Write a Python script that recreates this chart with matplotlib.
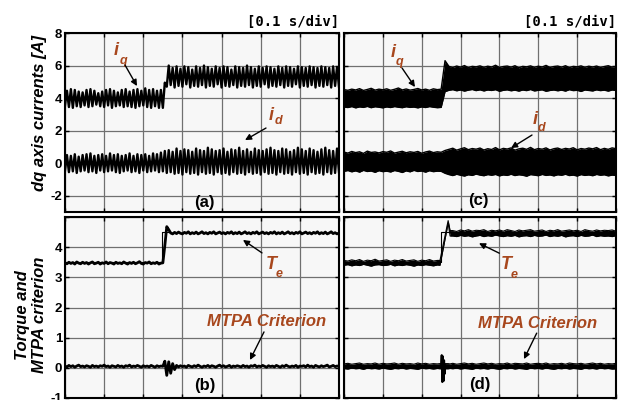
import numpy as np
import matplotlib
matplotlib.use("Agg")
import matplotlib.pyplot as plt

plt.rcParams['font.family'] = ['Liberation Sans', 'DejaVu Sans']

# ---------------- data ----------------
# time span of every panel: 7 divisions of 0.1 s
t_span = [0.0, 0.7]

# (a) dq currents, alternating trough/peak values, sampled every 5 ms
iq_a = [3.55, 4.45, 3.45, 4.55, 3.40, 4.50, 3.50, 4.40, 3.45, 4.35,
        3.55, 4.50, 3.45, 4.55, 3.50, 4.45, 3.60, 4.30, 3.50, 4.40,
        3.45, 4.50, 3.55, 4.55, 3.40, 4.45, 3.50, 4.35, 3.55, 4.50,
        3.45, 4.55, 3.50, 4.40, 3.45, 4.50, 3.40, 4.55, 3.50, 4.45,
        3.55, 4.60, 3.45, 4.50, 3.40, 4.55, 3.50, 4.45, 3.40, 4.50,
        3.40, 4.95, 4.70, 6.00, 4.80, 5.85, 4.65, 5.95, 4.75, 5.80,
        4.70, 5.95, 4.85, 5.90, 4.65, 5.75, 4.75, 5.95, 4.70, 5.85,
        4.80, 6.00, 4.65, 5.90, 4.75, 5.80, 4.70, 5.95, 4.85, 5.85,
        4.65, 5.95, 4.75, 5.90, 4.70, 5.75, 4.80, 5.95, 4.65, 5.90,
        4.75, 5.85, 4.70, 6.00, 4.80, 5.90, 4.65, 5.80, 4.75, 5.95,
        4.70, 5.85, 4.85, 5.95, 4.65, 5.90, 4.75, 5.80, 4.70, 5.95,
        4.80, 5.85, 4.65, 5.95, 4.75, 5.90, 4.70, 5.80, 4.85, 5.95,
        4.65, 5.90, 4.75, 5.85, 4.70, 5.95, 4.80, 5.90, 4.65, 5.85,
        4.75, 5.95, 4.70, 5.90, 4.80, 5.85, 4.65, 5.95, 4.75, 5.90, 4.70]
id_a = [-0.45, 0.50, -0.55, 0.45, -0.50, 0.55, -0.60, 0.40, -0.50, 0.50,
        -0.45, 0.55, -0.55, 0.60, -0.50, 0.45, -0.60, 0.50, -0.45, 0.55,
        -0.55, 0.45, -0.50, 0.60, -0.45, 0.50, -0.55, 0.55, -0.60, 0.45,
        -0.50, 0.50, -0.45, 0.60, -0.55, 0.45, -0.50, 0.55, -0.60, 0.50,
        -0.45, 0.55, -0.55, 0.45, -0.50, 0.60, -0.45, 0.55, -0.55, 0.65,
        -0.50, 0.75, -0.60, 0.80, -0.55, 0.70, -0.65, 0.90, -0.60, 0.75,
        -0.70, 0.85, -0.55, 0.80, -0.65, 0.70, -0.60, 0.90, -0.70, 0.80,
        -0.55, 0.75, -0.65, 0.95, -0.60, 0.85, -0.70, 0.75, -0.55, 0.80,
        -0.65, 0.90, -0.60, 0.70, -0.70, 0.85, -0.55, 0.80, -0.65, 0.95,
        -0.60, 0.75, -0.70, 0.85, -0.55, 0.70, -0.65, 0.90, -0.60, 0.80,
        -0.70, 0.75, -0.55, 0.85, -0.65, 0.95, -0.60, 0.80, -0.70, 0.75,
        -0.55, 0.90, -0.65, 0.85, -0.60, 0.70, -0.70, 0.80, -0.55, 0.95,
        -0.65, 0.85, -0.60, 0.75, -0.70, 0.90, -0.55, 0.80, -0.65, 0.70,
        -0.60, 0.85, -0.70, 0.95, -0.55, 0.80, -0.65, 0.75, -0.60, 0.90, -0.55]

# (b) torque and MTPA criterion, sampled every 5 ms
te_b = [3.48, 3.45, 3.50, 3.46, 3.49, 3.44, 3.51, 3.47, 3.45, 3.50,
        3.46, 3.49, 3.44, 3.48, 3.51, 3.45, 3.47, 3.50, 3.44, 3.48,
        3.46, 3.51, 3.45, 3.49, 3.47, 3.44, 3.50, 3.46, 3.48, 3.45,
        3.51, 3.47, 3.44, 3.49, 3.46, 3.50, 3.45, 3.48, 3.52, 3.46,
        3.44, 3.49, 3.47, 3.51, 3.45, 3.48, 3.46, 3.50, 3.44, 3.47,
        3.48, 4.05, 4.68, 4.58, 4.47, 4.44, 4.49, 4.45, 4.50, 4.46,
        4.44, 4.49, 4.46, 4.51, 4.44, 4.48, 4.45, 4.50, 4.44, 4.47,
        4.51, 4.45, 4.48, 4.44, 4.49, 4.46, 4.51, 4.44, 4.47, 4.50,
        4.45, 4.48, 4.44, 4.49, 4.46, 4.51, 4.44, 4.48, 4.45, 4.50,
        4.44, 4.47, 4.51, 4.45, 4.48, 4.44, 4.49, 4.46, 4.51, 4.44,
        4.47, 4.50, 4.45, 4.48, 4.44, 4.49, 4.46, 4.51, 4.44, 4.48,
        4.45, 4.50, 4.44, 4.47, 4.51, 4.45, 4.48, 4.44, 4.49, 4.46,
        4.51, 4.44, 4.47, 4.50, 4.45, 4.48, 4.44, 4.49, 4.46, 4.51,
        4.44, 4.48, 4.45, 4.50, 4.44, 4.47, 4.51, 4.45, 4.48, 4.44, 4.47]
mtpa_b = [0.06, 0.03, 0.08, 0.04, 0.07, 0.02, 0.06, 0.09, 0.04, 0.06,
          0.03, 0.07, 0.05, 0.02, 0.08, 0.04, 0.06, 0.03, 0.07, 0.05,
          0.09, 0.04, 0.06, 0.02, 0.07, 0.05, 0.03, 0.08, 0.04, 0.06,
          0.02, 0.07, 0.05, 0.09, 0.03, 0.06, 0.04, 0.08, 0.05, 0.02,
          0.07, 0.04, 0.06, 0.03, 0.08, 0.05, 0.02, 0.07, 0.04, 0.06,
          0.05, 0.22, -0.25, 0.20, -0.18, 0.14, -0.06, 0.08, 0.03, 0.07,
          0.04, 0.06, 0.02, 0.08, 0.05, 0.03, 0.07, 0.04, 0.09, 0.05,
          0.02, 0.06, 0.04, 0.08, 0.03, 0.07, 0.05, 0.02, 0.06, 0.09,
          0.04, 0.07, 0.03, 0.05, 0.08, 0.02, 0.06, 0.04, 0.07, 0.05,
          0.03, 0.08, 0.04, 0.06, 0.02, 0.07, 0.05, 0.09, 0.03, 0.06,
          0.04, 0.08, 0.05, 0.02, 0.07, 0.04, 0.06, 0.03, 0.08, 0.05,
          0.02, 0.07, 0.04, 0.09, 0.05, 0.03, 0.06, 0.04, 0.08, 0.02,
          0.06, 0.05, 0.07, 0.03, 0.09, 0.04, 0.06, 0.02, 0.08, 0.05,
          0.03, 0.07, 0.04, 0.06, 0.09, 0.03, 0.05, 0.08, 0.04, 0.06, 0.05]
ref_time_b = [0.0, 0.247, 0.247, 0.27]
ref_torque_b = [3.5, 3.5, 4.5, 4.5]

# (c) dense band envelopes, every 10 ms
iq_c_upper = [4.52, 4.48, 4.55, 4.50, 4.58, 4.47, 4.53, 4.60, 4.49, 4.55,
              4.51, 4.57, 4.48, 4.54, 4.62, 4.50, 4.56, 4.49, 4.53, 4.59,
              4.50, 4.55, 4.48, 4.57, 4.52, 4.55, 6.30,
              5.95, 5.88, 5.97, 5.90, 6.00, 5.87, 5.95, 5.92, 5.98,
              5.89, 5.96, 5.91, 6.02, 5.88, 5.94, 5.97, 5.90, 5.99, 5.86,
              5.95, 5.92, 5.98, 5.89, 5.96, 5.91, 6.01, 5.88, 5.94, 5.97,
              5.90, 5.99, 5.87, 5.95, 5.92, 5.98, 5.89, 5.96, 5.91, 5.97,
              5.88, 5.94, 5.99, 5.90, 5.95]
iq_c_lower = [3.45, 3.42, 3.48, 3.40, 3.46, 3.43, 3.49, 3.41, 3.47, 3.44,
              3.40, 3.46, 3.42, 3.48, 3.44, 3.41, 3.47, 3.43, 3.45, 3.40,
              3.46, 3.42, 3.48, 3.44, 3.41, 3.43, 4.40,
              4.48, 4.52, 4.45, 4.50, 4.43, 4.49, 4.53, 4.46, 4.51,
              4.44, 4.50, 4.47, 4.52, 4.42, 4.48, 4.51, 4.45, 4.49, 4.43,
              4.50, 4.46, 4.53, 4.44, 4.48, 4.51, 4.42, 4.47, 4.50, 4.45,
              4.49, 4.43, 4.52, 4.46, 4.48, 4.41, 4.50, 4.47, 4.44, 4.51,
              4.46, 4.49, 4.43, 4.50, 4.47]
id_c_upper = [0.68, 0.62, 0.72, 0.65, 0.70, 0.60, 0.74, 0.66, 0.69, 0.63,
              0.71, 0.67, 0.75, 0.62, 0.68, 0.73, 0.64, 0.70, 0.66, 0.72,
              0.61, 0.69, 0.74, 0.65, 0.70, 0.67, 0.78,
              0.85, 0.92, 0.80, 0.88, 0.95, 0.83, 0.90, 0.86, 0.93,
              0.81, 0.89, 0.84, 0.96, 0.82, 0.91, 0.87, 0.94, 0.80, 0.88,
              0.92, 0.85, 0.97, 0.83, 0.90, 0.86, 0.94, 0.81, 0.89, 0.93,
              0.84, 0.91, 0.87, 0.95, 0.82, 0.90, 0.86, 0.93, 0.88, 0.96,
              0.83, 0.91, 0.85, 0.94, 0.89]
id_c_lower = [-0.50, -0.45, -0.53, -0.47, -0.55, -0.44, -0.51, -0.48, -0.56, -0.46,
              -0.52, -0.49, -0.54, -0.45, -0.50, -0.57, -0.47, -0.53, -0.44, -0.51,
              -0.48, -0.55, -0.46, -0.52, -0.49, -0.50, -0.62,
              -0.70, -0.76, -0.68, -0.74, -0.79, -0.71, -0.75, -0.67, -0.73,
              -0.77, -0.70, -0.74, -0.69, -0.78, -0.72, -0.75, -0.68, -0.76, -0.71,
              -0.74, -0.80, -0.70, -0.73, -0.77, -0.69, -0.75, -0.72, -0.78, -0.71,
              -0.74, -0.68, -0.76, -0.73, -0.79, -0.70, -0.75, -0.72, -0.77, -0.69,
              -0.74, -0.71, -0.78, -0.73, -0.75]

# (d) band envelopes: 10 ms samples before, the step transient, 10 ms samples after
d_transient_time = [0.247, 0.268, 0.273]
te_d_upper = [3.56, 3.54, 3.58, 3.55, 3.59, 3.53, 3.57, 3.55, 3.60, 3.54,
              3.56, 3.58, 3.53, 3.57, 3.55, 3.59, 3.54, 3.56, 3.58, 3.53,
              3.57, 3.55, 3.59, 3.54, 3.56,
              3.56, 4.88, 4.55,
              4.55, 4.52, 4.57, 4.54, 4.58, 4.53, 4.56, 4.55, 4.58, 4.52,
              4.56, 4.54, 4.57, 4.53, 4.58, 4.55, 4.52, 4.57, 4.54, 4.56,
              4.58, 4.53, 4.55, 4.57, 4.52, 4.56, 4.54, 4.58, 4.53, 4.55,
              4.57, 4.54, 4.56, 4.52, 4.58, 4.55, 4.53, 4.57, 4.54, 4.56,
              4.55, 4.57, 4.53]
te_d_lower = [3.40, 3.42, 3.38, 3.41, 3.39, 3.43, 3.40, 3.37, 3.41, 3.42,
              3.39, 3.40, 3.43, 3.38, 3.41, 3.39, 3.42, 3.40, 3.37, 3.41,
              3.39, 3.42, 3.40, 3.38, 3.41,
              3.40, 4.80, 4.37,
              4.37, 4.35, 4.39, 4.36, 4.38, 4.34, 4.37, 4.39, 4.35, 4.38,
              4.36, 4.40, 4.37, 4.35, 4.38, 4.36, 4.39, 4.34, 4.37, 4.38,
              4.35, 4.39, 4.36, 4.37, 4.40, 4.35, 4.38, 4.36, 4.39, 4.34,
              4.37, 4.38, 4.35, 4.39, 4.36, 4.37, 4.40, 4.35, 4.38, 4.36,
              4.37, 4.35, 4.38]
mtpa_d_upper = [0.13, 0.15, 0.12, 0.14, 0.16, 0.12, 0.14, 0.13, 0.16, 0.12,
                0.15, 0.13, 0.14, 0.16, 0.12, 0.15, 0.13, 0.14, 0.12, 0.16,
                0.13, 0.15, 0.12, 0.14, 0.13,
                0.14, 0.14, 0.13,
                0.15, 0.12, 0.14, 0.16, 0.13, 0.15, 0.12, 0.14, 0.16, 0.13,
                0.15, 0.12, 0.14, 0.13, 0.16, 0.12, 0.15, 0.14, 0.13, 0.16,
                0.12, 0.14, 0.15, 0.13, 0.16, 0.12, 0.14, 0.13, 0.15, 0.12,
                0.16, 0.14, 0.13, 0.15, 0.12, 0.14, 0.16, 0.13, 0.15, 0.12,
                0.14, 0.13, 0.15]
mtpa_d_lower = [-0.02, -0.04, -0.01, -0.03, -0.02, -0.05, -0.01, -0.03, -0.02, -0.04,
                -0.01, -0.03, -0.05, -0.02, -0.03, -0.01, -0.04, -0.02, -0.03, -0.05,
                -0.01, -0.03, -0.02, -0.04, -0.02,
                -0.03, -0.03, -0.02,
                -0.03, -0.01, -0.04, -0.02, -0.03, -0.05, -0.01, -0.03, -0.02, -0.04,
                -0.01, -0.03, -0.05, -0.02, -0.03, -0.01, -0.04, -0.02, -0.03, -0.05,
                -0.01, -0.03, -0.02, -0.04, -0.01, -0.03, -0.05, -0.02, -0.03, -0.01,
                -0.04, -0.02, -0.03, -0.05, -0.01, -0.03, -0.02, -0.04, -0.01, -0.03,
                -0.02, -0.04, -0.03]
mtpa_d_burst_time = [0.250, 0.2515, 0.253, 0.2545, 0.256, 0.2575, 0.259, 0.2605]
mtpa_d_burst = [0.05, 0.42, -0.47, 0.38, -0.44, 0.25, -0.20, 0.08]
ref_time_d = [0.0, 0.250, 0.250, 0.273]
ref_torque_d = [3.5, 3.5, 4.5, 4.5]

top_yticks = [-2, 0, 2, 4, 6, 8]
top_ylim = [-3, 8]
bot_yticks = [-1, 0, 1, 2, 3, 4, 5]
bot_ytick_labels = ['-1', '0', '1', '2', '3', '4', '']
bot_ylim = [-1, 5]
panel_letters = ['(a)', '(b)', '(c)', '(d)']
time_div_label = '[0.1 s/div]'

# ---------------- figure ----------------
W, H = 618, 400
fig = plt.figure(figsize=(W / 100, H / 100), dpi=100)


def px_axes(x0, y0, x1, y1):
    return fig.add_axes([x0 / W, 1 - y1 / H, (x1 - x0) / W, (y1 - y0) / H])


ax_a = px_axes(65, 33, 339, 212)
ax_c = px_axes(344, 33, 616, 212)
ax_b = px_axes(65, 217, 339, 398)
ax_d = px_axes(344, 217, 616, 398)

TXT = '#a8471d'


def style(ax, ylim, yticks, labels, show):
    ax.set_facecolor('#f7f7f7')
    ax.set_xlim(*t_span)
    ax.set_ylim(*ylim)
    ax.set_xticks(np.linspace(t_span[0], t_span[1], 8))
    ax.set_yticks(yticks)
    ax.set_axisbelow(True)
    ax.grid(True, color='#707070', lw=0.9)
    ax.tick_params(direction='in', length=3, width=1, top=True, right=True,
                   labelbottom=False, labelleft=show, pad=2)
    if show:
        ax.set_yticklabels(labels, fontweight='bold', fontsize=9.5)
    for s in ax.spines.values():
        s.set_linewidth(1.5)
        s.set_color('black')


style(ax_a, top_ylim, top_yticks, [str(v) for v in top_yticks], True)
style(ax_c, top_ylim, top_yticks, None, False)
style(ax_b, bot_ylim, bot_yticks, bot_ytick_labels, True)
style(ax_d, bot_ylim, bot_yticks, None, False)

# (a)
t_a = np.linspace(t_span[0], t_span[1], len(iq_a))
ax_a.plot(t_a, iq_a, color='black', lw=1.7)
ax_a.plot(t_a, id_a, color='black', lw=1.7)

# (b)
t_b = np.linspace(t_span[0], t_span[1], len(te_b))
ax_b.plot(ref_time_b, ref_torque_b, color='black', lw=0.8, zorder=2)
ax_b.plot(t_b, te_b, color='black', lw=2.0, zorder=3)
ax_b.plot(t_b, mtpa_b, color='black', lw=2.0, zorder=3)

# (c)
t_c = np.linspace(t_span[0], t_span[1], len(iq_c_upper))
for up, lo in [(iq_c_upper, iq_c_lower), (id_c_upper, id_c_lower)]:
    ax_c.fill_between(t_c, lo, up, color='black', lw=0, zorder=3)
    ax_c.plot(t_c, up, color='black', lw=1.0, zorder=3)
    ax_c.plot(t_c, lo, color='black', lw=1.0, zorder=3)

# (d)
t_d = np.concatenate([np.linspace(0.0, 0.24, 25), d_transient_time,
                      np.linspace(0.28, 0.70, 43)])
ax_d.plot(ref_time_d, ref_torque_d, color='black', lw=0.8, zorder=2)
for up, lo in [(te_d_upper, te_d_lower), (mtpa_d_upper, mtpa_d_lower)]:
    ax_d.fill_between(t_d, lo, up, color='black', lw=0, zorder=3)
    ax_d.plot(t_d, up, color='black', lw=0.8, zorder=3)
    ax_d.plot(t_d, lo, color='black', lw=0.8, zorder=3)
ax_d.plot(mtpa_d_burst_time, mtpa_d_burst, color='black', lw=1.5, zorder=3)

# ---------------- text ----------------
for ax in (ax_a, ax_c):
    ax.text(1.0, 1.064, time_div_label, transform=ax.transAxes, ha='right',
            va='center', fontsize=10, fontweight='bold', family='DejaVu Sans Mono')

fig.text(40 / W, 1 - 113 / H, 'dq axis currents [A]', rotation=90, ha='center',
         va='center', fontsize=12, fontweight='bold', style='italic')
fig.text(31 / W, 1 - 315 / H, 'Torque and\nMTPA criterion', rotation=90,
         ha='center', va='center', multialignment='center', fontsize=12,
         fontweight='bold', style='italic', linespacing=1.15)

for ax, s, x, y in [(ax_a, panel_letters[0], 0.3551, -2.39),
                    (ax_b, panel_letters[1], 0.3577, -0.57),
                    (ax_c, panel_letters[2], 0.3449, -2.30),
                    (ax_d, panel_letters[3], 0.3487, -0.54)]:
    ax.text(x, y, s, ha='center', va='center', fontsize=12, fontweight='bold')


def sym(ax, main, sub, pm, ps):
    ax.text(pm[0], pm[1], main, ha='right', va='center', fontsize=13,
            fontweight='bold', style='italic', color=TXT)
    ax.text(ps[0], ps[1], sub, ha='left', va='center', fontsize=9,
            fontweight='bold', style='italic', color=TXT)


def arrow(ax, start, end):
    ax.annotate('', xy=end, xytext=start,
                arrowprops=dict(arrowstyle='-|>', color='black', lw=1.0,
                                mutation_scale=9, shrinkA=0, shrinkB=0))


sym(ax_a, 'i', 'q', (0.1380, 6.95), (0.1400, 6.28))
arrow(ax_a, (0.1533, 6.03), (0.1839, 4.74))
sym(ax_a, 'i', 'd', (0.5340, 2.96), (0.5350, 2.59))
arrow(ax_a, (0.5135, 2.16), (0.4599, 1.42))

sym(ax_c, 'i', 'q', (0.1340, 6.80), (0.1335, 6.19))
arrow(ax_c, (0.1493, 5.85), (0.1827, 4.68))
sym(ax_c, 'i', 'd', (0.4995, 2.71), (0.4995, 2.16))
arrow(ax_c, (0.4838, 1.73), (0.4298, 0.93))

sym(ax_b, 'T', 'e', (0.5400, 3.44), (0.5390, 3.12))
arrow(ax_b, (0.5033, 3.81), (0.4547, 4.24))
ax_b.text(0.5160, 1.52, 'MTPA Criterion', ha='center', va='center', fontsize=12,
          fontweight='bold', style='italic', color=TXT)
arrow(ax_b, (0.5084, 1.19), (0.4726, 0.26))

sym(ax_d, 'T', 'e', (0.4320, 3.41), (0.4300, 3.09))
arrow(ax_d, (0.3997, 3.80), (0.3474, 4.13))
ax_d.text(0.4988, 1.48, 'MTPA Criterion', ha='center', va='center', fontsize=12,
          fontweight='bold', style='italic', color=TXT)
arrow(ax_d, (0.4959, 1.15), (0.4632, 0.29))

fig.savefig('out.png', dpi=100, facecolor='white')
